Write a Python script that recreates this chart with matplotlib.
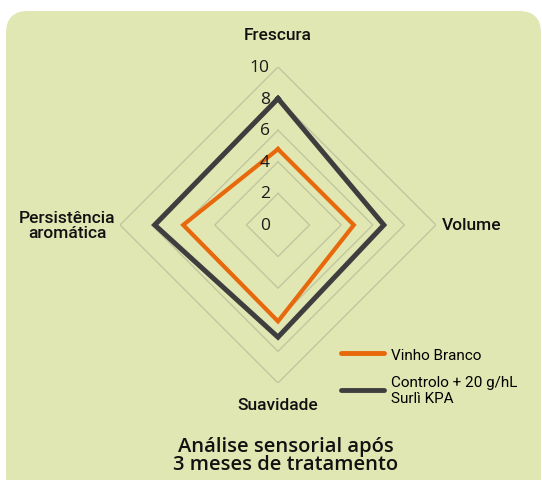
import numpy as np
import matplotlib
matplotlib.use("Agg")
import matplotlib.pyplot as plt
from matplotlib.patches import FancyBboxPatch
from matplotlib.lines import Line2D

categories = ["Frescura", "Volume", "Suavidade", "Persistência\naromática"]
vinho_branco = [4.8, 4.8, 6.1, 6.0]
controlo_kpa = [8.0, 6.7, 7.1, 7.8]
ticks = [0, 2, 4, 6, 8, 10]
series_labels = ["Vinho Branco", "Controlo + 20 g/hL\nSurlì KPA"]

BG = "#e1e7b3"
ORANGE = "#e8680c"
DARK = "#3e3e3e"
GRID = "#c2c6a0"
NARROW = ["Roboto", "DejaVu Sans"]
OPEN = ["Open Sans", "DejaVu Sans"]

fig = plt.figure(figsize=(5.42, 4.81), dpi=100)
fig.patch.set_facecolor("white")
bg = FancyBboxPatch((0.06, -0.2), 5.35, 4.89, boxstyle="round,pad=0,rounding_size=0.22",
                    transform=fig.dpi_scale_trans, facecolor=BG, edgecolor="none", zorder=-5)
fig.patches.append(bg)

ax = fig.add_axes([0.2214, 0.2017, 0.583, 0.657], projection="polar")
ax.set_zorder(2)
ax.set_facecolor("none")
ax.set_theta_zero_location("N")
ax.set_theta_direction(-1)
ax.set_ylim(0, 10)
ax.grid(False)
ax.set_xticks([]); ax.set_yticks([])
ax.spines["polar"].set_visible(False)

ang = np.arange(len(categories)) * 2 * np.pi / len(categories)
ang_c = np.append(ang, ang[0])

# diamond grid rings
for t in ticks[1:]:
    ax.plot(ang_c, [t] * len(ang_c), color=GRID, lw=1.0, zorder=1)

for t in ticks:
    ax.annotate(str(t), xy=(0, t), xytext=(-6, 0), textcoords="offset points",
                ha="right", va="center", fontsize=12.5, family=OPEN, color="#1a1a1a",
                annotation_clip=False, zorder=4)

ax.plot(ang_c, vinho_branco + vinho_branco[:1], color=ORANGE, lw=3.0, zorder=3,
        solid_joinstyle="miter")
ax.plot(ang_c, controlo_kpa + controlo_kpa[:1], color=DARK, lw=3.6, zorder=2,
        solid_joinstyle="miter")

lab_pos = [(11.6, "center", "bottom"), (10.4, "left", "center"),
           (10.9, "center", "top"), (10.3, "right", "center")]
for a, name, (r, ha, va) in zip(ang, categories, lab_pos):
    ax.text(a, r, name, ha=ha, va=va, fontsize=12.5, family=NARROW, weight="medium",
            color="#111111", multialignment="center", linespacing=1.0, clip_on=False)

handles = [Line2D([], [], color=ORANGE, lw=3.5, solid_capstyle="round"),
           Line2D([], [], color=DARK, lw=3.5, solid_capstyle="round")]
leg = fig.legend(handles, series_labels, loc="upper left", bbox_to_anchor=(0.618, 0.288),
                 frameon=False, prop={"family": NARROW, "size": 11}, handlelength=2.8,
                 handletextpad=0.5, labelspacing=0.85, borderaxespad=0)
leg.set_zorder(3)

fig.text(0.527, 0.052, "Análise sensorial após\n3 meses de tratamento", ha="center",
         va="center", fontsize=14.5, family=OPEN, weight="semibold", color="#111111",
         linespacing=0.92, zorder=3)

fig.savefig("out.png", dpi=100, facecolor="white")
